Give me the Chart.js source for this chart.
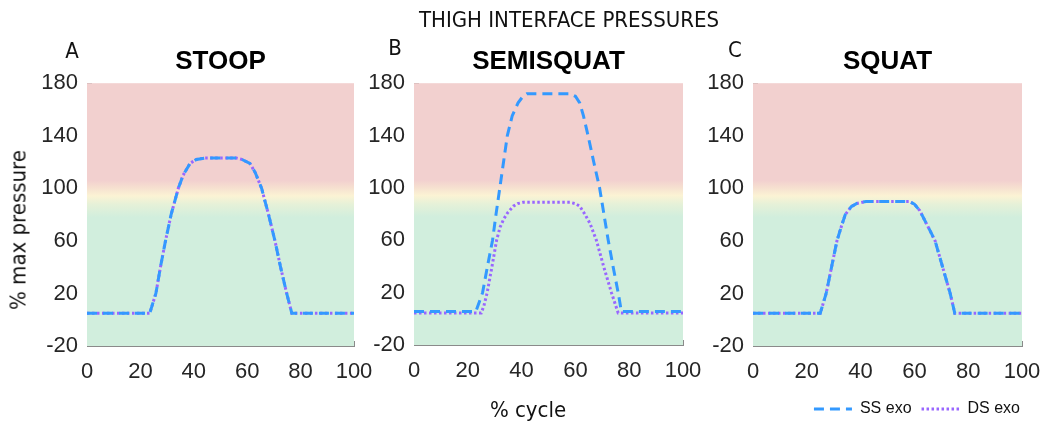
<!DOCTYPE html>
<html>
<head>
<meta charset="utf-8">
<script src="https://cdn.jsdelivr.net/npm/chart.js@4.4.1/dist/chart.umd.min.js"></script>
<style>
  html, body { margin: 0; padding: 0; background: #ffffff; }
  #wrap { position: relative; width: 1044px; height: 424px; overflow: hidden; }
  #wrap canvas { position: absolute; left: 0; top: 0; }
  .lbl { position: absolute; font-family: "Liberation Sans Narrow", "DejaVu Sans Condensed", "Open Sans", sans-serif; color: #111; white-space: nowrap; }
  #mainTitle { left: 569px; top: 19px; font-size: 22px; transform: translate(-50%, -50%); }
  .panelTag { font-size: 22px; transform: translate(-50%, -50%); }
  #yTitle { left: 18px; top: 230px; font-size: 22px; transform: translate(-50%, -50%) rotate(-90deg); }
  #xTitle { left: 528px; top: 409px; font-size: 22px; transform: translate(-50%, -50%); }
</style>
</head>
<body>
<div id="wrap">
  <canvas id="cStoop" width="1044" height="424"></canvas>
  <canvas id="cSemi" width="1044" height="424"></canvas>
  <canvas id="cSquat" width="1044" height="424"></canvas>
  <div class="lbl" id="mainTitle">THIGH INTERFACE PRESSURES</div>
  <div class="lbl panelTag" style="left:72px;top:50px;">A</div>
  <div class="lbl panelTag" style="left:395px;top:47px;">B</div>
  <div class="lbl panelTag" style="left:735px;top:49px;">C</div>
  <div class="lbl" id="yTitle">% max pressure</div>
  <div class="lbl" id="xTitle">% cycle</div>
</div>
<script>
// Tick labels
const xTickValues = [0, 20, 40, 60, 80, 100];
const yTickValues = [-20, 20, 60, 100, 140, 180];

// Panel titles and series names
const panelTitles = ['STOOP', 'SEMISQUAT', 'SQUAT'];
const seriesNames = ['SS exo', 'DS exo'];

// STOOP: % cycle and % max pressure (SS and DS overlap)
const stoopCycle = [0, 23.5, 25.8, 27.5, 29.4, 31.5, 34.2, 36, 38.6, 41, 44, 50, 56, 58, 61, 63, 65.4, 68, 70.4, 72.5, 74.8, 76.7, 100];
const stoopSS    = [5, 5, 20, 40, 60, 80, 100, 110, 119, 122, 123, 123, 123, 122, 119, 112, 100, 80, 60, 40, 20, 5, 5];
const stoopDS    = [5, 5, 20, 40, 60, 80, 100, 110, 119, 122, 123, 123, 123, 122, 119, 112, 100, 80, 60, 40, 20, 5, 5];

// SEMISQUAT
const semiCycleSS = [0, 23, 25.5, 27.3, 29.2, 30.5, 31.9, 33.3, 34.7, 36.5, 38.7, 40.5, 42, 50, 58, 60, 61.6, 63, 64.7, 66.8, 69, 70.6, 72.2, 74, 75.9, 77.1, 100];
const semiSS      = [5.5, 5.5, 20, 40, 60, 80, 100, 120, 140, 155, 165, 170, 172, 172, 172, 170, 165, 155, 140, 120, 100, 80, 60, 40, 20, 5.5, 5.5];
const semiCycleDS = [0, 25, 26, 27.2, 29, 30.7, 32, 33.3, 34.8, 36.9, 38.5, 40.6, 50, 58, 60, 61.6, 63.5, 65.4, 67.8, 70.5, 73.4, 75, 75.9, 100];
const semiDS      = [4.5, 4.5, 10, 20, 40, 60, 70, 76, 81, 86, 88, 89, 89, 89, 88, 86, 80, 73, 60, 40, 20, 10, 4.5, 4.5];

// SQUAT (SS and DS overlap)
const squatCycle = [0, 25, 27.2, 29.2, 31.2, 33, 34.3, 36.5, 38.6, 42, 50, 58, 60, 62, 64, 66, 67.7, 70.5, 73.3, 75, 100];
const squatSS    = [5, 5, 20, 40, 60, 72, 80, 86, 88.5, 90, 90, 90, 88, 83, 75, 67, 60, 40, 20, 5, 5];
const squatDS    = [5, 5, 20, 40, 60, 72, 80, 86, 88.5, 90, 90, 90, 88, 83, 75, 67, 60, 40, 20, 5, 5];

const ssColor = '#3399ff';
const dsColor = '#9966ff';
const ssDash = [10, 6];
const dsDash = [2.5, 2.5];
const tickFont = { family: '"Liberation Sans", Arial, sans-serif', size: 22 };

function pairs(xs, ys) { return xs.map((x, i) => ({ x: x, y: ys[i] })); }

// Comfort-zone backdrop behind the traces
const zoneBackdrop = {
  id: 'zoneBackdrop',
  beforeDatasetsDraw(chart) {
    const { ctx, chartArea: a, scales: { y } } = chart;
    const g = ctx.createLinearGradient(0, y.getPixelForValue(106), 0, y.getPixelForValue(78));
    g.addColorStop(0, '#f2d0cf');
    g.addColorStop(0.2, '#f6e0d0');
    g.addColorStop(0.42, '#fbf3d4');
    g.addColorStop(0.65, '#e6f1d8');
    g.addColorStop(1, '#d1eedd');
    ctx.save();
    ctx.fillStyle = g;
    ctx.fillRect(a.left, a.top, a.right - a.left, a.bottom - a.top);
    ctx.restore();
  }
};

// Nudge the legend row down towards the bottom edge
const legendNudge = {
  id: 'legendNudge',
  afterLayout(chart, args, opts) {
    const lg = chart.legend;
    if (lg && opts.dy) { lg.top += opts.dy; lg.bottom += opts.dy; }
  }
};

function makePanel(canvasId, title, ssData, dsData, frame) {
  const scales = {
    x: {
      type: 'linear', min: 0, max: 100,
      afterBuildTicks: s => { s.ticks = xTickValues.map(v => ({ value: v })); },
      afterFit: s => { s.height = frame.xHeight; s.paddingLeft = 0; s.paddingRight = 0; },
      border: { display: true, color: '#8a8a8a', width: 1 },
      grid: { drawOnChartArea: false, drawTicks: true, tickLength: -5, color: '#8a8a8a' },
      ticks: { font: tickFont, color: '#262626', padding: 18, maxRotation: 0 }
    },
    y: {
      min: -20, max: 180,
      afterBuildTicks: s => { s.ticks = yTickValues.map(v => ({ value: v })); },
      afterFit: s => { s.width = 50; },
      border: { display: true, color: '#8a8a8a', width: 1 },
      grid: { drawOnChartArea: false, drawTicks: true, tickLength: -5, color: '#8a8a8a' },
      ticks: { font: tickFont, color: '#262626', padding: 14 }
    }
  };
  if (frame.rightGap) {
    scales.yR = {
      position: 'right', min: -20, max: 180, display: true,
      afterFit: s => { s.width = frame.rightGap; },
      border: { display: false }, grid: { display: false }, ticks: { display: false }
    };
  }
  return new Chart(document.getElementById(canvasId), {
    type: 'line',
    data: {
      datasets: [
        { label: seriesNames[0], data: ssData, borderColor: ssColor, borderWidth: 3, borderDash: ssDash, pointRadius: 0, tension: 0, fill: false, borderCapStyle: 'butt' },
        { label: seriesNames[1], data: dsData, borderColor: dsColor, borderWidth: 3, borderDash: dsDash, pointRadius: 0, tension: 0, fill: false, borderCapStyle: 'butt' }
      ]
    },
    options: {
      responsive: false, animation: false, devicePixelRatio: 1,
      layout: { padding: frame.padding },
      events: [],
      scales: scales,
      plugins: {
        title: {
          display: true, text: title, fullSize: false, color: '#000',
          font: { family: '"Liberation Sans", Arial, sans-serif', size: 26, weight: 'bold' },
          padding: { top: 46, bottom: 6 }
        },
        legend: frame.legend ? {
          display: true, position: 'bottom', align: 'end',
          labels: {
            usePointStyle: true, pointStyle: 'line', pointStyleWidth: 38,
            font: { family: '"Liberation Sans", Arial, sans-serif', size: 16 }, color: '#111', padding: 10,
            generateLabels: chart => chart.data.datasets.map((ds, i) => ({
              text: ds.label, datasetIndex: i, pointStyle: 'line',
              strokeStyle: ds.borderColor, fillStyle: ds.borderColor,
              lineWidth: ds.borderWidth, lineDash: ds.borderDash, lineCap: 'butt',
              fontColor: '#111', hidden: false
            }))
          }
        } : { display: false },
        legendNudge: { dy: frame.legendDy || 0 },
        tooltip: { enabled: false }
      }
    },
    plugins: [zoneBackdrop, legendNudge]
  });
}

makePanel('cStoop', panelTitles[0], pairs(stoopCycle, stoopSS), pairs(stoopCycle, stoopDS),
  { padding: { left: 37, right: 690, top: 0, bottom: 0 }, xHeight: 78 });
makePanel('cSemi', panelTitles[1], pairs(semiCycleSS, semiSS), pairs(semiCycleDS, semiDS),
  { padding: { left: 364, right: 361, top: 0, bottom: 0 }, xHeight: 79 });
makePanel('cSquat', panelTitles[2], pairs(squatCycle, squatSS), pairs(squatCycle, squatDS),
  { padding: { left: 703, right: 14, top: 0, bottom: 0 }, xHeight: 42, rightGap: 8, legend: true, legendDy: 3 });
</script>
</body>
</html>
